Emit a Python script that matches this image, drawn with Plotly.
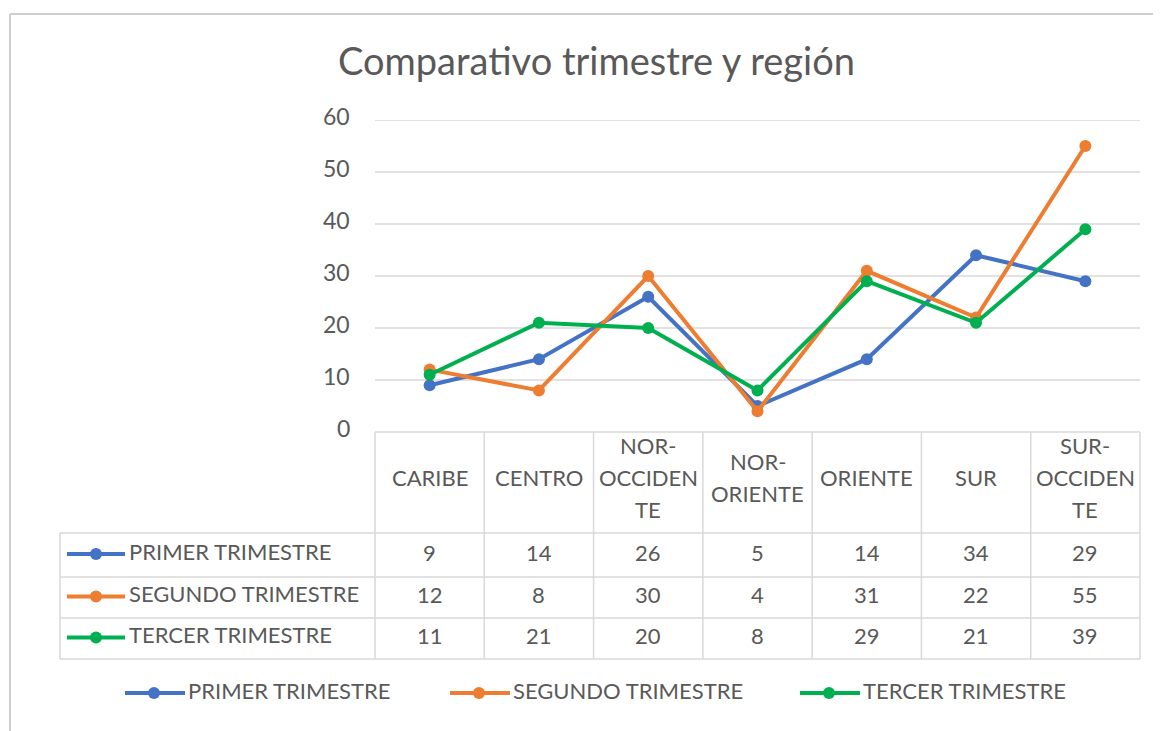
import plotly.graph_objects as go

W, H = 1161, 731

categories = ["CARIBE", "CENTRO", "NOR-\nOCCIDEN\nTE", "NOR-\nORIENTE", "ORIENTE", "SUR", "SUR-\nOCCIDEN\nTE"]
series_names = ["PRIMER TRIMESTRE", "SEGUNDO TRIMESTRE", "TERCER TRIMESTRE"]
primer = [9, 14, 26, 5, 14, 34, 29]
segundo = [12, 8, 30, 4, 31, 22, 55]
tercer = [11, 21, 20, 8, 29, 21, 39]
y_ticks = [0, 10, 20, 30, 40, 50, 60]
title = "Comparativo trimestre y región"

series_values = [primer, segundo, tercer]
colors = ["#4472C4", "#ED7D31", "#00B050"]

FONT = "Lato"
TXT = "#595959"
GRID = "#D9D9D9"
FS = 22
TSHIFT = 3  # text sits slightly above cell centre

OFF = 8  # page body margin in the browser

# pixel layout (target image coordinates)
PX_L, PX_R = 375, 1140
PY_TOP, PY_ZERO = 120, 432
TAB_L = 60
ROW_Y = [432, 533, 577, 618, 659]


def fx(px):
    return (px - OFF) / W


def fy(py):
    return 1 - (py - OFF) / H


fig = go.Figure()
n = len(categories)
idx = list(range(n))

for name, vals, c in zip(series_names, series_values, colors):
    fig.add_trace(go.Scatter(
        x=idx, y=vals, mode="lines+markers", name=name,
        line=dict(color=c, width=4), marker=dict(color=c, size=12),
        xaxis="x", yaxis="y", showlegend=False, hoverinfo="skip"))

shapes = []
annotations = []
col_w = (PX_R - PX_L) / n

# gridlines (non-zero) and tick labels
for t in y_ticks[1:]:
    shapes.append(dict(type="line", xref="paper", yref="y", x0=fx(PX_L), x1=fx(PX_R), y0=t, y1=t,
                       line=dict(color=GRID, width=1.5), layer="below"))
for t in y_ticks:
    annotations.append(dict(xref="paper", yref="y", x=fx(352), y=t, text=str(t), showarrow=False,
                            font=dict(family=FONT, size=FS + 1, color=TXT), xanchor="right",
                            yanchor="middle", yshift=TSHIFT + 1))

# table borders
shapes.append(dict(type="line", xref="paper", yref="paper", x0=fx(PX_L), x1=fx(PX_R),
                   y0=fy(ROW_Y[0]), y1=fy(ROW_Y[0]), line=dict(color=GRID, width=1.5)))
for ry in ROW_Y[1:]:
    shapes.append(dict(type="line", xref="paper", yref="paper", x0=fx(TAB_L), x1=fx(PX_R),
                       y0=fy(ry), y1=fy(ry), line=dict(color=GRID, width=1.5)))
for i in range(n + 1):
    px = PX_L + i * col_w
    shapes.append(dict(type="line", xref="paper", yref="paper", x0=fx(px), x1=fx(px),
                       y0=fy(ROW_Y[0]), y1=fy(ROW_Y[-1]), line=dict(color=GRID, width=1.5)))
shapes.append(dict(type="line", xref="paper", yref="paper", x0=fx(TAB_L), x1=fx(TAB_L),
                   y0=fy(ROW_Y[1]), y1=fy(ROW_Y[-1]), line=dict(color=GRID, width=1.5)))

# chart frame
shapes.append(dict(type="line", xref="paper", yref="paper", x0=fx(10), x1=1,
                   y0=fy(14), y1=fy(14), line=dict(color="#BFBFBF", width=1.5)))
shapes.append(dict(type="line", xref="paper", yref="paper", x0=fx(10), x1=fx(10),
                   y0=fy(14), y1=0, line=dict(color="#BFBFBF", width=1.5)))

# header labels (each wrapped line placed separately)
LINE_H = 32
head_cy = (ROW_Y[0] + ROW_Y[1]) / 2 - 2
for i, cat in enumerate(categories):
    cx = PX_L + (i + 0.5) * col_w
    lines = cat.split("\n")
    for k, ln in enumerate(lines):
        ly = head_cy + (k - (len(lines) - 1) / 2) * LINE_H
        annotations.append(dict(xref="paper", yref="paper", x=fx(cx), y=fy(ly),
                                text=ln, showarrow=False,
                                font=dict(family=FONT, size=FS, color=TXT),
                                xanchor="center", yanchor="middle", yshift=TSHIFT))

# value rows + legend keys
for r, (name, vals, c) in enumerate(zip(series_names, series_values, colors)):
    cy = (ROW_Y[r + 1] + ROW_Y[r + 2]) / 2
    for i, v in enumerate(vals):
        cx = PX_L + (i + 0.5) * col_w
        annotations.append(dict(xref="paper", yref="paper", x=fx(cx), y=fy(cy), text=str(v),
                                showarrow=False, font=dict(family=FONT, size=FS, color=TXT),
                                xanchor="center", yanchor="middle", yshift=TSHIFT))
    shapes.append(dict(type="line", xref="paper", yref="paper", x0=fx(67), x1=fx(125),
                       y0=fy(cy - 1), y1=fy(cy - 1), line=dict(color=c, width=4)))
    shapes.append(dict(type="circle", xref="paper", yref="paper", x0=fx(96 - 6), x1=fx(96 + 6),
                       y0=fy(cy - 1 + 6), y1=fy(cy - 1 - 6), fillcolor=c, line=dict(color=c, width=0)))
    annotations.append(dict(xref="paper", yref="paper", x=fx(127), y=fy(cy), text=name,
                            showarrow=False, font=dict(family=FONT, size=FS, color=TXT),
                            xanchor="left", yanchor="middle", yshift=TSHIFT + 1))

# bottom legend
leg_x = [125, 450, 800]
LEG_Y = 693
for name, c, lx in zip(series_names, colors, leg_x):
    shapes.append(dict(type="line", xref="paper", yref="paper", x0=fx(lx), x1=fx(lx + 60),
                       y0=fy(LEG_Y), y1=fy(LEG_Y), line=dict(color=c, width=4)))
    shapes.append(dict(type="circle", xref="paper", yref="paper", x0=fx(lx + 29 - 6), x1=fx(lx + 29 + 6),
                       y0=fy(LEG_Y + 6), y1=fy(LEG_Y - 6), fillcolor=c, line=dict(color=c, width=0)))
    annotations.append(dict(xref="paper", yref="paper", x=fx(lx + 61), y=fy(LEG_Y), text=name,
                            showarrow=False, font=dict(family=FONT, size=FS, color=TXT),
                            xanchor="left", yanchor="middle", yshift=TSHIFT))

# title
annotations.append(dict(xref="paper", yref="paper", x=fx(596), y=fy(62), text=title, showarrow=False,
                        font=dict(family=FONT, size=38, color=TXT), xanchor="center", yanchor="middle",
                        yshift=2))

fig.update_layout(
    width=W, height=H, margin=dict(l=0, r=0, t=0, b=0, autoexpand=False),
    paper_bgcolor="white", plot_bgcolor="white",
    xaxis=dict(domain=[fx(PX_L), fx(PX_R)], range=[-0.5, n - 0.5], visible=False, fixedrange=True),
    yaxis=dict(domain=[fy(PY_ZERO), fy(PY_TOP)], range=[y_ticks[0], y_ticks[-1]],
               visible=False, fixedrange=True),
    shapes=shapes, annotations=annotations, showlegend=False,
)

fig.write_html("out.html")
